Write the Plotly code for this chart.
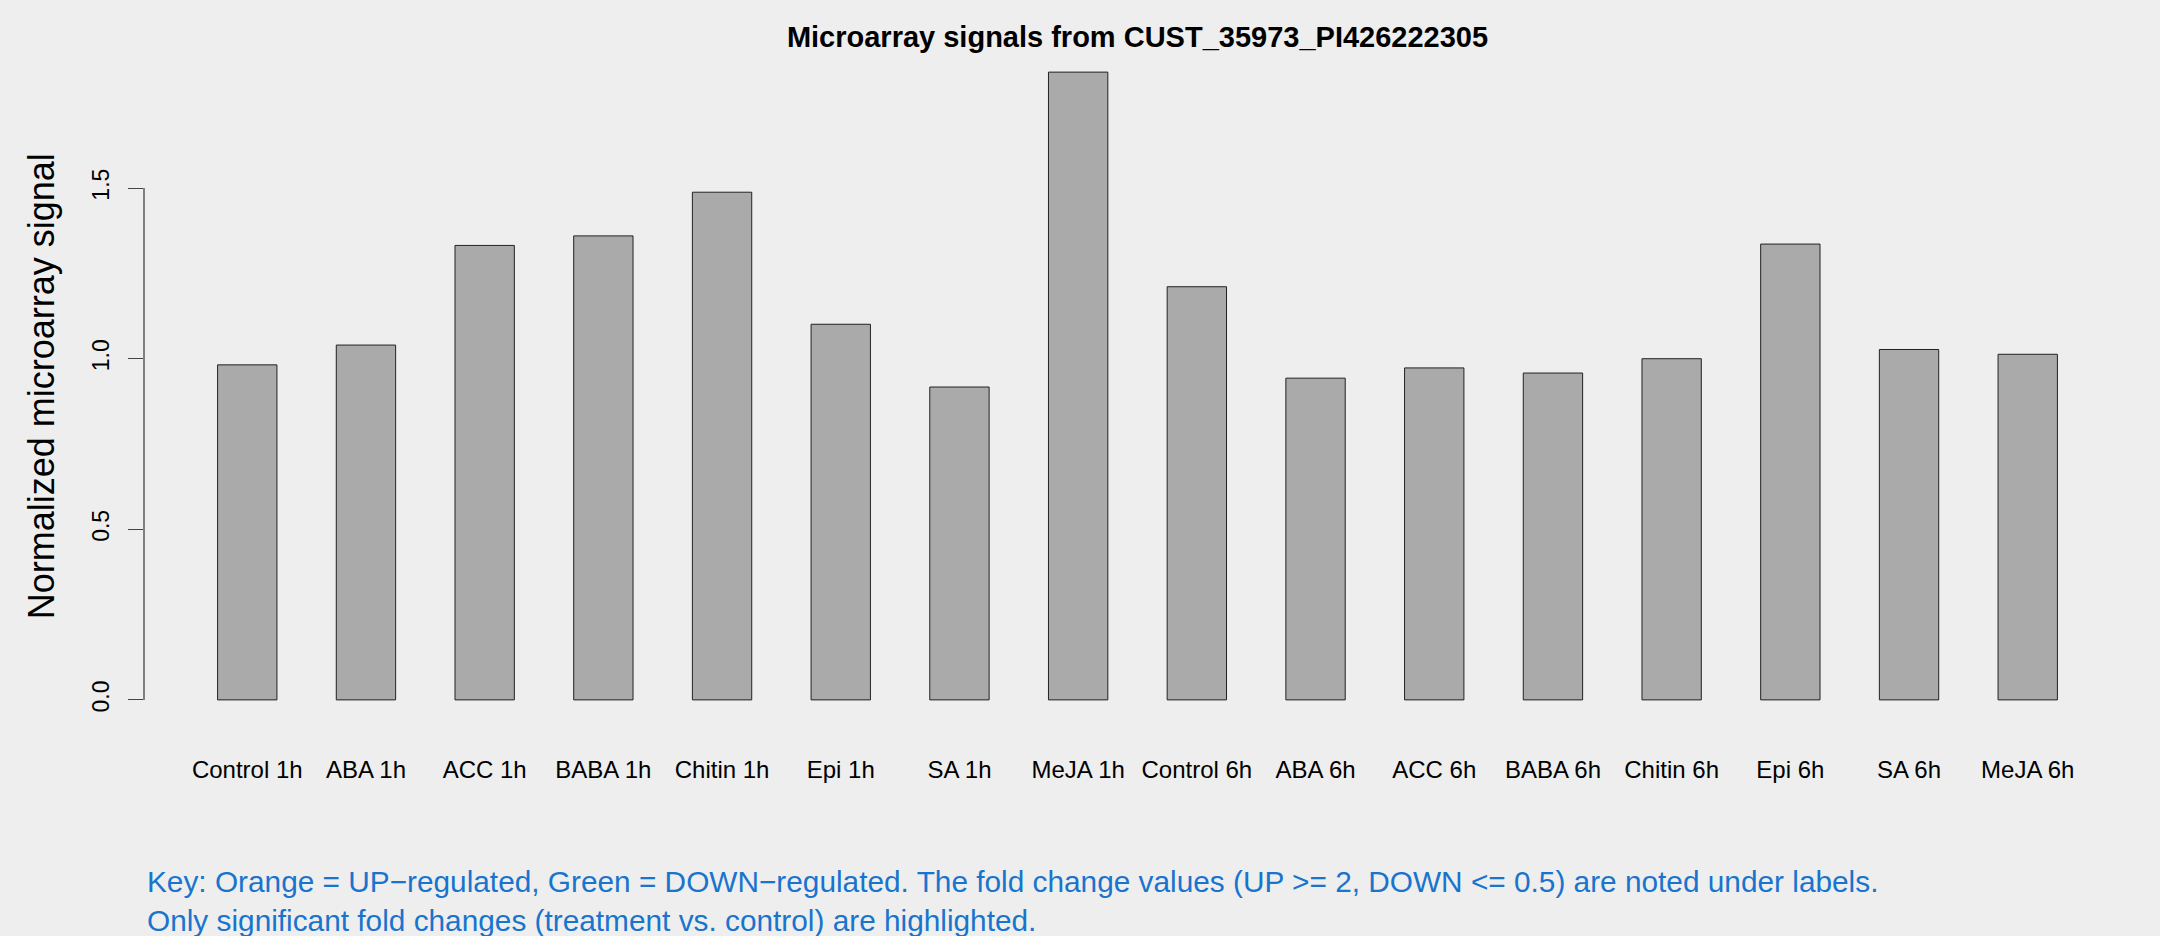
import plotly.graph_objects as go

# ---- data ----
categories = ["Control 1h", "ABA 1h", "ACC 1h", "BABA 1h", "Chitin 1h", "Epi 1h", "SA 1h", "MeJA 1h",
              "Control 6h", "ABA 6h", "ACC 6h", "BABA 6h", "Chitin 6h", "Epi 6h", "SA 6h", "MeJA 6h"]
signal = [0.982, 1.040, 1.332, 1.360, 1.488, 1.101, 0.917, 1.840,
          1.211, 0.943, 0.973, 0.958, 1.000, 1.336, 1.027, 1.013]
y_ticks = [0.0, 0.5, 1.0, 1.5]
y_tick_labels = ["0.0", "0.5", "1.0", "1.5"]

title_text = "Microarray signals from CUST_35973_PI426222305"
y_title = "Normalized microarray signal"
note_lines = [
    "Key: Orange = UP\u2212regulated, Green = DOWN\u2212regulated. The fold change values (UP >= 2, DOWN <= 0.5) are noted under labels.",
    "Only significant fold changes (treatment vs. control) are highlighted.",
]

FONT = "Liberation Sans, Arial, Helvetica, sans-serif"
BG = "#EEEEEE"

W, H = 2160, 936
m_l, m_r, m_t, m_b = 143.7, 28.9, 46.6, 211.4
plot_h = H - m_t - m_b

n = len(categories)
xpos = list(range(n))
ymax = max(signal)
y_lo, y_hi = -0.04 * ymax, 1.04 * ymax

fig = go.Figure()
fig.add_trace(go.Bar(
    x=xpos, y=signal, width=0.5,
    marker=dict(color="#AAAAAA", line=dict(color="#222222", width=1)),
    hoverinfo="x+y", showlegend=False,
))

# y axis line drawn only over the tick range (R style)
fig.add_shape(type="line", xref="paper", yref="y", x0=0, x1=0,
              y0=y_ticks[0], y1=y_ticks[-1], line=dict(color="#444444", width=1.3))

fig.update_layout(
    width=W, height=H,
    paper_bgcolor=BG, plot_bgcolor=BG,
    margin=dict(l=m_l, r=m_r, t=m_t, b=m_b, autoexpand=False),
    font=dict(family=FONT, color="black"),
    title=dict(text="<b>" + title_text + "</b>", x=0.5, xref="paper",
               y=1 - 37 / H, yref="container", yanchor="middle", xanchor="center",
               font=dict(size=29, family=FONT, color="black")),
    bargap=0.5,
)

fig.update_xaxes(
    range=[-0.87, n - 1 + 0.87],
    tickmode="array", tickvals=xpos, ticktext=categories,
    showline=False, showgrid=False, zeroline=False, ticks="",
    tickfont=dict(size=24, family=FONT, color="black"),
    ticklabelstandoff=28,
)
fig.update_yaxes(
    range=[y_lo, y_hi],
    tickmode="array", tickvals=y_ticks, ticktext=y_tick_labels,
    showline=False, showgrid=False, zeroline=False,
    ticks="outside", ticklen=15, tickcolor="#444444", tickwidth=1.3,
    tickangle=-90,
    tickfont=dict(size=23, family=FONT, color="black"),
    ticklabelstandoff=10,
)

plot_w = W - m_l - m_r
fig.add_annotation(
    text=y_title, textangle=-90, showarrow=False,
    xref="paper", yref="paper", x=-(m_l - 41) / plot_w, y=0.5,
    xanchor="center", yanchor="middle",
    font=dict(size=36, family=FONT, color="black"),
)
fig.add_annotation(
    text="<br>".join(note_lines), showarrow=False, align="left",
    xref="paper", yref="paper", x=(145 - m_l) / plot_w, y=-(901 - (H - m_b)) / plot_h,
    xanchor="left", yanchor="middle",
    font=dict(size=29.8, family=FONT, color="#1874CD"),
)

fig.write_html(
    "out.html",
    config={"displayModeBar": False},
    post_script="document.body.style.margin='0';document.body.style.background='#EEEEEE';",
)
